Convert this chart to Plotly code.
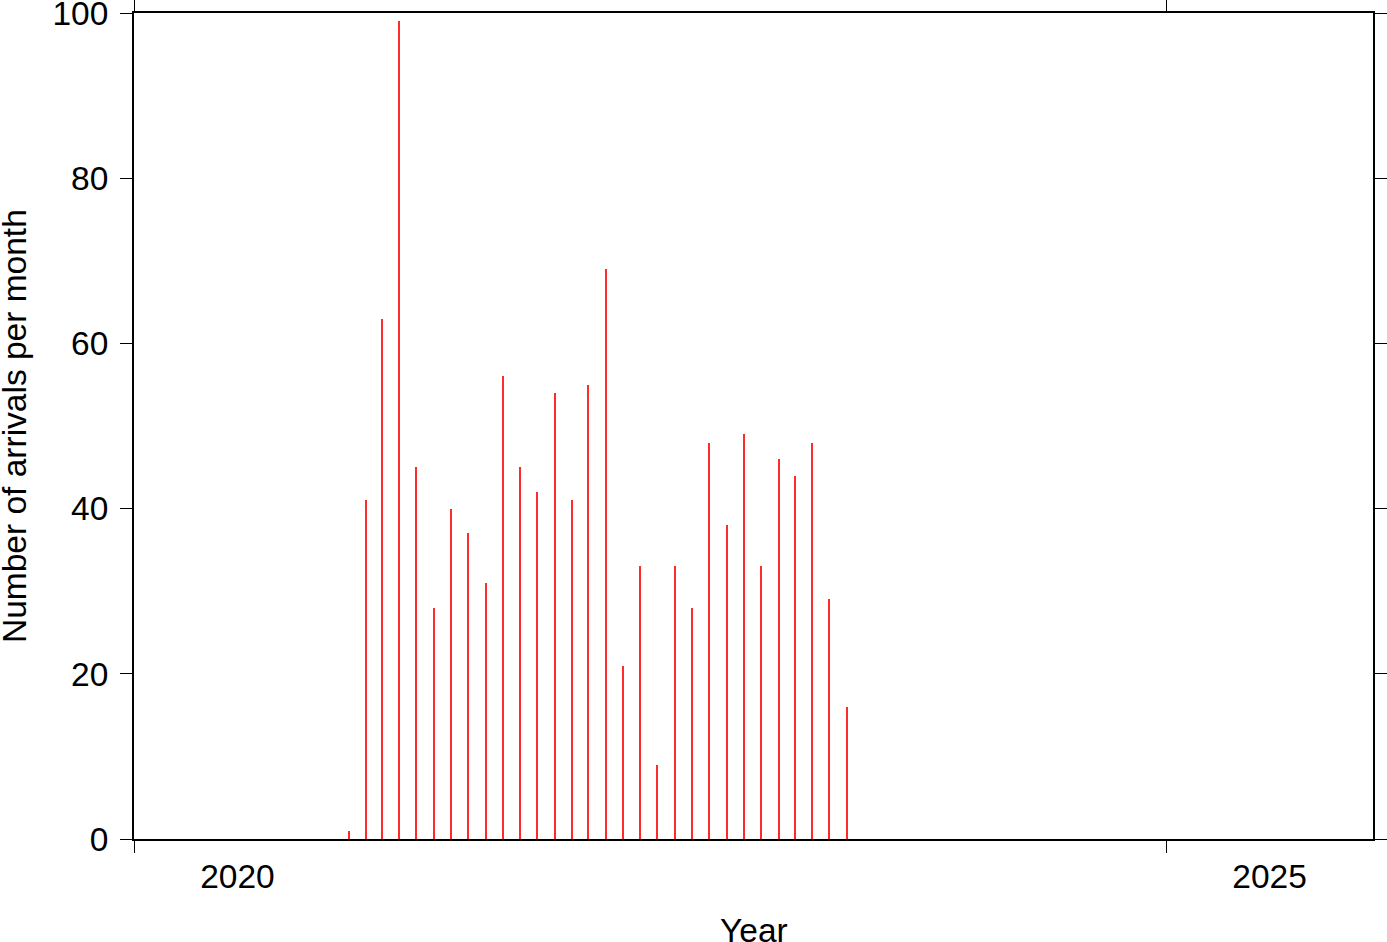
import plotly.graph_objects as go

months = ["2021-01-15","2021-02-15","2021-03-15","2021-04-15","2021-05-15","2021-06-15",
          "2021-07-15","2021-08-15","2021-09-15","2021-10-15","2021-11-15","2021-12-15",
          "2022-01-15","2022-02-15","2022-03-15","2022-04-15","2022-05-15","2022-06-15",
          "2022-07-15","2022-08-15","2022-09-15","2022-10-15","2022-11-15","2022-12-15",
          "2023-01-15","2023-02-15","2023-03-15","2023-04-15","2023-05-15","2023-06-15"]
arrivals = [1, 41, 63, 99, 45, 28, 40, 37, 31, 56, 45, 42,
            54, 41, 55, 69, 21, 33, 9, 33, 28, 48, 38, 49,
            33, 46, 44, 48, 29, 16]

year_ticks = ["2020-01-01", "2025-01-01"]
year_label_pos = ["2020-07-02", "2025-07-02"]
year_labels = ["2020", "2025"]
y_ticks = [0, 20, 40, 60, 80, 100]
x_range = ["2020-01-01", "2026-01-01"]
x_title = "Year"
y_title = "Number of arrivals per month"

FONT = "Liberation Sans, Arial, sans-serif"
FS = 33.5

fig = go.Figure()
fig.add_trace(go.Bar(
    x=months, y=arrivals,
    width=86400000 * 2.6,
    marker=dict(color="#ff2a2a", line=dict(width=0)),
    showlegend=False, hoverinfo="skip",
))
# invisible trace to anchor the top tick axis
fig.add_trace(go.Scatter(
    x=year_ticks, y=[None, None], xaxis="x2", mode="markers",
    showlegend=False, hoverinfo="skip",
))

fig.update_layout(
    width=1387, height=942,
    margin=dict(l=134, r=14, t=13, b=103, autoexpand=False),
    paper_bgcolor="white", plot_bgcolor="white",
    font=dict(family=FONT, size=FS, color="black"),
    bargap=0,
    xaxis2=dict(
        type="date", overlaying="x", side="top", anchor="y", automargin=False,
        range=x_range, tickmode="array", tickvals=year_ticks,
        showticklabels=False, ticks="outside", ticklen=12, tickwidth=1,
        tickcolor="black", showgrid=False, zeroline=False, showline=False,
    ),
    annotations=[
        dict(text=x_title, xref="paper", yref="paper", x=0.5, y=0,
             xanchor="center", yanchor="middle", yshift=-91, showarrow=False,
             font=dict(size=FS)),
        dict(text=y_title, xref="paper", yref="paper", x=0, y=0.5,
             xanchor="center", yanchor="middle", xshift=-120, textangle=-90,
             showarrow=False, font=dict(size=FS)),
    ],
)
fig.layout.xaxis.update(
    type="date", automargin=False,
    range=x_range,
    tickmode="array", tickvals=year_label_pos, ticktext=year_labels,
    ticks="", ticklabelstandoff=7, ticklabeloverflow="allow",
    minor=dict(tickmode="array", tickvals=year_ticks, ticks="outside",
               ticklen=12, tickwidth=1, tickcolor="black", showgrid=False),
    showgrid=False, zeroline=False,
    showline=True, linecolor="black", linewidth=2, mirror=True,
)
fig.update_yaxes(
    automargin=False,
    range=[0, 100],
    tickmode="array", tickvals=y_ticks,
    ticks="outside", ticklen=12, tickwidth=1, tickcolor="black",
    ticklabelstandoff=5, ticklabeloverflow="allow",
    showgrid=False, zeroline=False,
    showline=True, linecolor="black", linewidth=2, mirror="ticks",
)

fig.write_html("out.html", config={"displayModeBar": False},
               post_script="document.body.style.margin='0';")
